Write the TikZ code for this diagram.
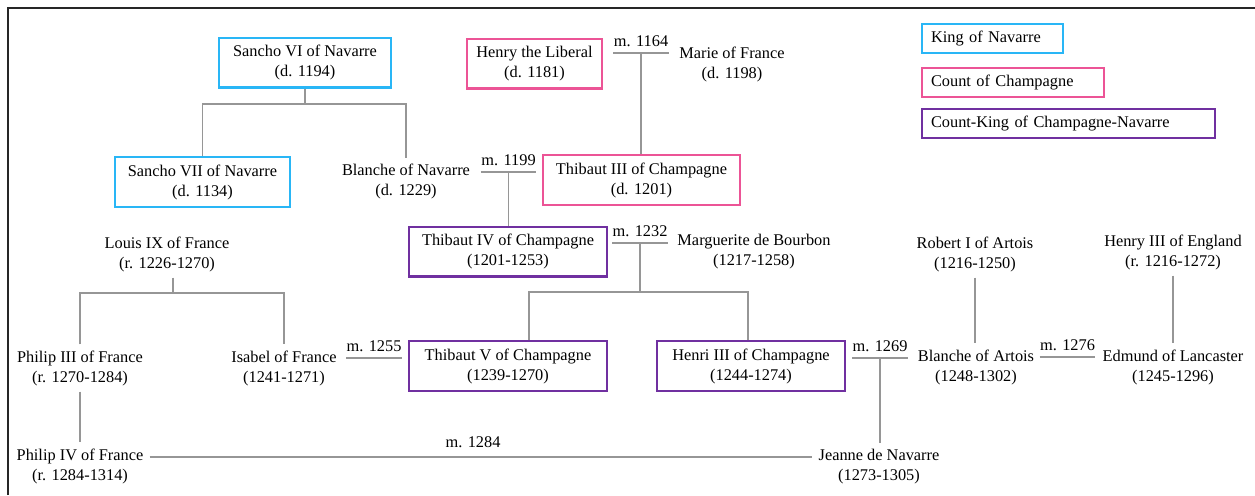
\documentclass[tikz,border=0pt]{standalone}
\usepackage{fontspec}
\setmainfont{Liberation Serif}
\usepackage{xcolor}
\usetikzlibrary{positioning,calc}

\definecolor{navblue}{RGB}{41,182,246}
\definecolor{champink}{RGB}{236,84,150}
\definecolor{cknpurple}{RGB}{112,48,160}
\definecolor{linkgray}{RGB}{150,150,150}

\begin{document}
\begin{tikzpicture}[
    x=0.02cm, y=-0.02cm,
    person/.style={align=center, font=\fontsize{9.3}{11.4}\selectfont},
    king/.style={person, rectangle, draw=navblue, line width=1.15pt, minimum height=1cm},
    count/.style={person, rectangle, draw=champink, line width=1.15pt, minimum height=1cm},
    ckn/.style={person, rectangle, draw=cknpurple, line width=1.15pt, minimum height=1cm},
    legend/.style={rectangle, anchor=west, line width=1.15pt, minimum height=0.58cm, inner xsep=0.18cm, align=left, font=\fontsize{9.3}{11.4}\selectfont},
    mlabel/.style={anchor=south, inner xsep=0pt, inner ysep=0.12cm, font=\fontsize{9.3}{11.4}\selectfont},
    mline/.style={draw=linkgray, line width=0.6pt},
    link/.style={draw=linkgray, line width=0.6pt}
]
\useasboundingbox (0,0) rectangle (1255,495);

% Frame
\draw[black!85, line width=0.9pt] (8,495) -- (8,8) -- (1255,8);

% Legend
\node[legend, draw=navblue, text width=2.46cm] (lking) at (921,38.5) {King of Navarre};
\node[legend, draw=champink, text width=3.28cm] (lcount) at (921,82.5) {Count of Champagne};
\node[legend, draw=cknpurple, text width=5.5cm] (lckn) at (921,123.5) {Count-King of Champagne-Navarre};

% Navarre
\node[king, minimum width=3.44cm] (sancho6) at (305,62.5) {Sancho VI of Navarre\\(d. 1194)};
\node[king, minimum width=3.5cm] (sancho7) at (202.5,182) {Sancho VII of Navarre\\(d. 1134)};
\node[person] (blancheN) at (406,181.5) {Blanche of Navarre\\(d. 1229)};

% Champagne
\node[count, minimum width=2.7cm] (henry) at (534.5,63.5) {Henry the Liberal\\(d. 1181)};
\node[person] (marie) at (732,64) {Marie of France\\(d. 1198)};
\node[count, minimum width=3.94cm] (thibaut3) at (641.5,180) {Thibaut III of Champagne\\(d. 1201)};
\node[ckn, minimum width=3.96cm] (thibaut4) at (508,251.5) {Thibaut IV of Champagne\\(1201-1253)};
\node[person] (marguerite) at (754,252) {Marguerite de Bourbon\\(1217-1258)};
\node[ckn, minimum width=3.96cm] (thibaut5) at (508,366) {Thibaut V of Champagne\\(1239-1270)};
\node[ckn, minimum width=3.76cm] (henri3) at (751,366) {Henri III of Champagne\\(1244-1274)};

% France
\node[person] (louis9) at (167,254) {Louis IX of France\\(r. 1226-1270)};
\node[person] (philip3) at (80,368) {Philip III of France\\(r. 1270-1284)};
\node[person] (isabel) at (284,368) {Isabel of France\\(1241-1271)};
\node[person] (philip4) at (80,466) {Philip IV of France\\(r. 1284-1314)};
\node[person] (jeanne) at (879,467) {Jeanne de Navarre\\(1273-1305)};

% Artois and England
\node[person] (robert) at (975,254) {Robert I of Artois\\(1216-1250)};
\node[person] (blancheA) at (976,367) {Blanche of Artois\\(1248-1302)};
\node[person] (henry3) at (1173,252) {Henry III of England\\(r. 1216-1272)};
\node[person] (edmund) at (1173,367) {Edmund of Lancaster\\(1245-1296)};

% Marriages
\node[mlabel] (m1164) at (641,53) {m. 1164};
\node[mlabel] (m1199) at (508.5,172) {m. 1199};
\node[mlabel] (m1232) at (640,243) {m. 1232};
\node[mlabel] (m1255) at (374,358) {m. 1255};
\node[mlabel] (m1269) at (880,358) {m. 1269};
\node[mlabel] (m1276) at (1067.5,357) {m. 1276};
\node[mlabel] (m1284) at (473,454) {m. 1284};
\foreach \m in {m1164,m1199,m1232,m1255,m1269,m1276}
    \draw[mline] (\m.south west) -- (\m.south east);
\draw[mline] ([yshift=0.18cm]philip4.east) -- ([yshift=0.18cm]philip4.east -| jeanne.west);

% Descent lines
\coordinate (jsancho) at (305,104);
\draw[link] (sancho6.south) -- (jsancho);
\draw[link] (sancho7.north) |- (jsancho) -| (blancheN.north);

\draw[link] (m1164.south) -- (m1164.south |- thibaut3.north);
\draw[link] (m1199.south) -- (m1199.south |- thibaut4.north);

\coordinate (jthib) at (640,292);
\draw[link] (m1232.south) -- (jthib);
\draw[link] ([xshift=0.42cm]thibaut5.north) |- (jthib) -| ([xshift=-0.06cm]henri3.north);

\coordinate (jlouis) at (173,293);
\draw[link] (louis9.south -| jlouis) -- (jlouis);
\draw[link] (philip3.north) |- (jlouis) -| (isabel.north);
\draw[link] (philip3.south) -- (philip4.north);

\draw[link] (m1269.south) -- (m1269.south |- jeanne.north);
\draw[link] (robert.south) -- (robert.south |- blancheA.north);
\draw[link] (henry3.south) -- (edmund.north);

\end{tikzpicture}
\end{document}
